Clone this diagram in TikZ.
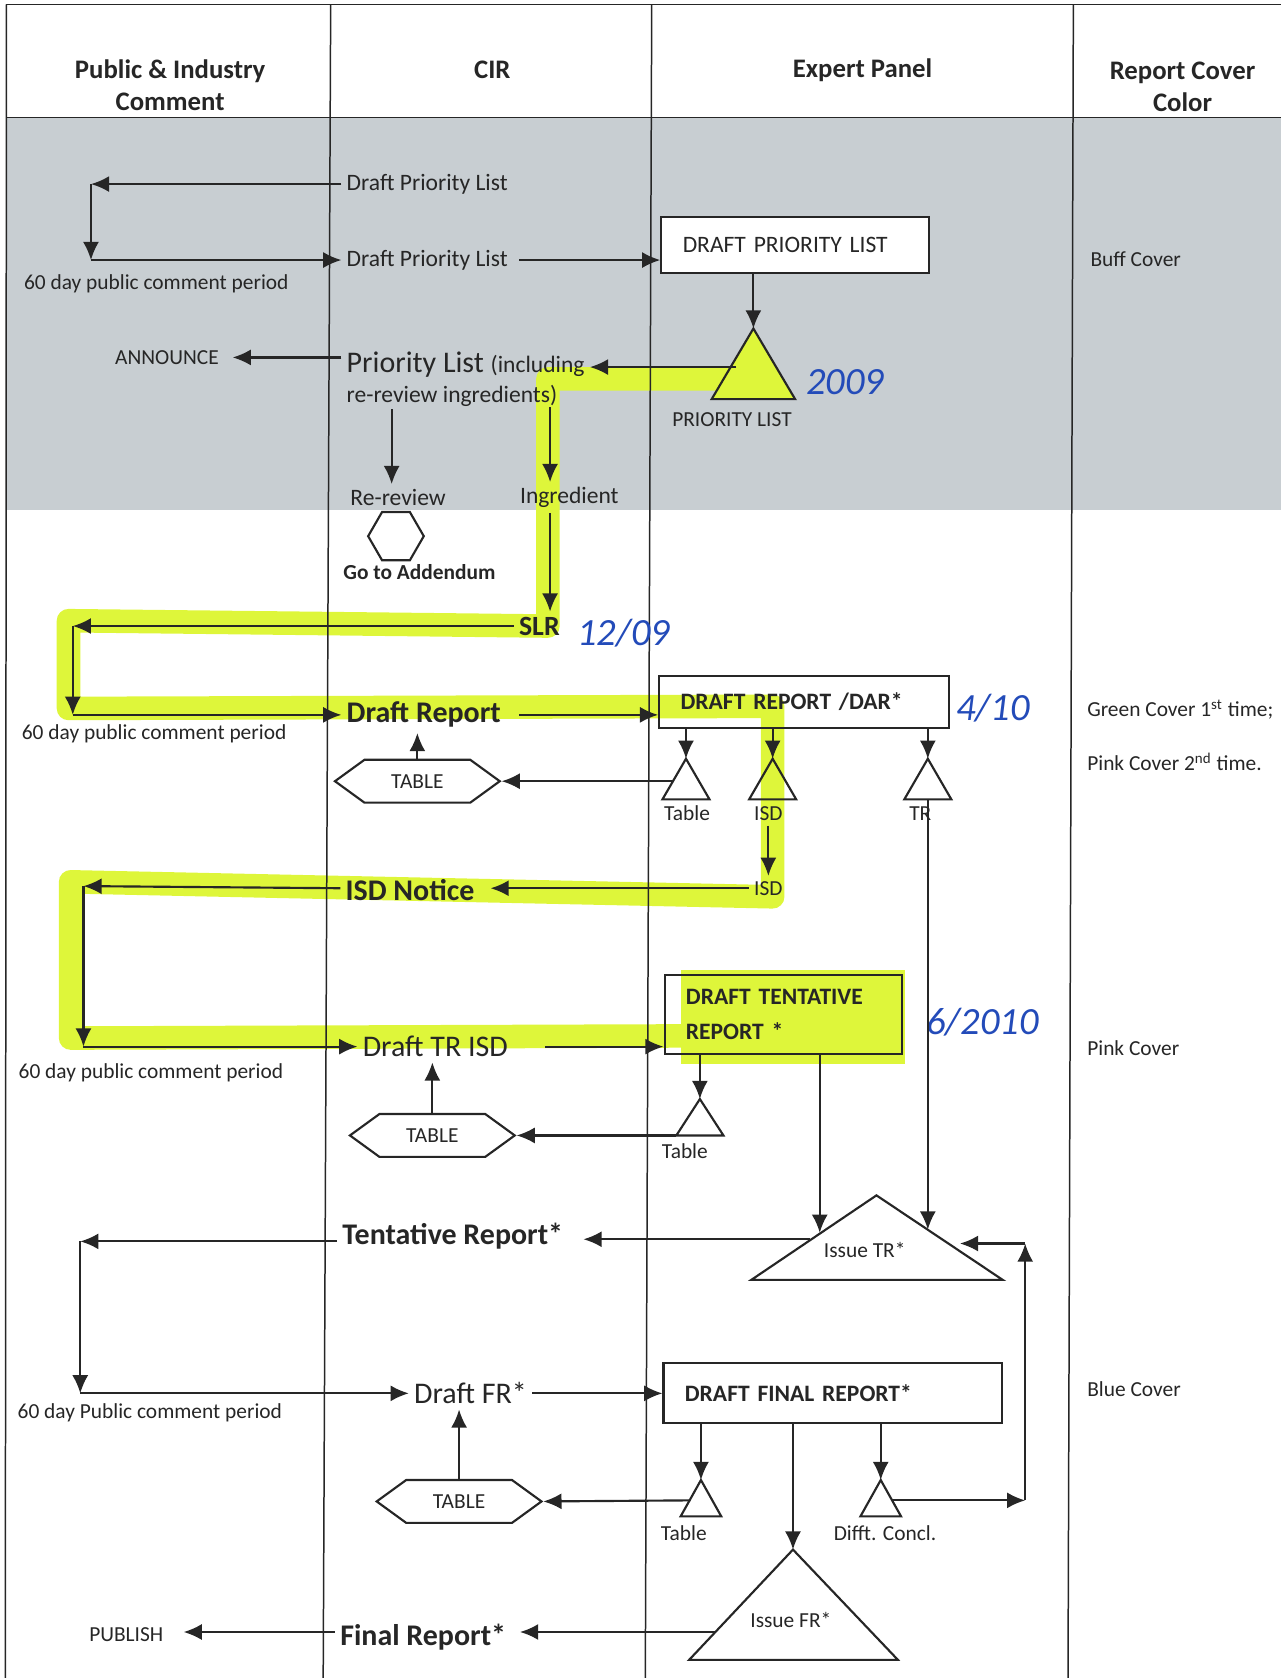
\documentclass[tikz,border=0pt]{standalone}
\usepackage{fontspec}
\setmainfont{Carlito}
\usetikzlibrary{arrows.meta,shapes.symbols,shapes.geometric}

\definecolor{bandgray}{RGB}{200,206,210}
\definecolor{marker}{RGB}{222,246,58}
\definecolor{ink}{RGB}{35,75,185}

\begin{document}
\begin{tikzpicture}[>={Latex[length=8.5pt,width=7.5pt]}, x=0.5pt, y=-0.5pt, line width=1pt, color=black!85,
  lbl/.style={font=\fontsize{10}{12}\selectfont, inner sep=2pt},
  lbm/.style={font=\fontsize{11}{13}\selectfont, inner sep=2pt},
  big/.style={font=\fontsize{14}{16}\selectfont, inner sep=2pt},
  bigb/.style={font=\fontsize{14}{16}\selectfont\bfseries, inner sep=2pt},
  head/.style={font=\fontsize{12.5}{15}\selectfont\bfseries, align=center},
  box/.style={draw, inner xsep=10pt, inner ysep=0pt, align=left, font=\fontsize{11}{16}\selectfont},
  boxb/.style={box, font=\fontsize{11}{16}\selectfont\bfseries},
  tabhex/.style={draw, signal, signal to=west and east, signal pointer angle=72,
    minimum height=20pt, minimum width=77pt, inner sep=0pt, font=\fontsize{10}{12}\selectfont},
  hand/.style={text=ink, font=\fontsize{18}{18}\selectfont\itshape},
  hilite/.style={draw=marker, line width=11pt, line join=round, line cap=round},
  lane/.style={line width=0.7pt}]

  % page and shaded band
  \useasboundingbox (0,0) rectangle (1197,1568);
  \fill[bandgray] (6,110) rectangle (1197,477);

  % highlighter strokes
  \draw[hilite] (700,354) -- (512,354) -- (512,585) -- (64,580) -- (64,662)
    -- (722,660) -- (722,838) -- (66,824) -- (66,970) -- (640,968);
  \fill[marker] (636,906) rectangle (846,994);

  % lanes
  \draw[lane] (6,4) -- (1197,4);
  \draw[lane] (6,110) -- (1197,110);
  \draw[lane] (6,4) -- (5,1568);
  \draw[lane] (309,4) -- (302,1568);
  \draw[lane] (609,4) -- (603,1568);
  \draw[lane] (1003,4) -- (998,1568);

  % headings
  \node[head] (hpub) at (159,80) {Public \& Industry\\Comment};
  \node[head] (hcir) at (460,65) {CIR};
  \node[head] (hexp) at (806,66) {Expert Panel};
  \node[head] (hcov) at (1105,81) {Report Cover\\Color};

  % cover colours
  \node[lbl, anchor=west] (buff) at (1014,242) {Buff Cover};
  \node[lbl, anchor=west] (green) at (1011,663) {Green Cover 1\textsuperscript{st} time;};
  \node[lbl, anchor=west] (pinkb) at (1011,712) {Pink Cover 2\textsuperscript{nd} time.};
  \node[lbl, anchor=west] (pink) at (1011,979) {Pink Cover};
  \node[lbl, anchor=west] (blue) at (1011,1298) {Blue Cover};

  % priority list
  \node[lbm, anchor=west] (dpl1) at (319,172) {Draft Priority List};
  \node[lbm, anchor=west] (dpl2) at (319,243) {Draft Priority List};
  \node[lbl] (pc1) at (146,265) {60 day public comment period};
  \coordinate (k1) at (85,172);
  \draw[->] (dpl1.west) -- (k1);
  \draw[->] (k1) -- (k1 |- dpl2.west);
  \draw[->] (k1 |- dpl2.west) -- (dpl2.west);
  \node[box, fill=white, text width=105pt, minimum height=26pt] (dplbox) at (743,229) {DRAFT PRIORITY LIST};
  \draw[->] ([xshift=3pt]dpl2.east) -- (dpl2.east -| dplbox.west);

  \coordinate (plt) at (704,307);
  \draw[fill=marker] (plt) -- ++(-39,66) -- ++(78,0) -- cycle;
  \draw[->] (dplbox.south -| plt) -- (plt);
  \node[lbl] (plbl) at (684,392) {PRIORITY LIST};
  \node[hand] (n2009) at (790,357) {2009};

  \node[anchor=west, inner sep=2pt] (plist) at (319,341)
    {\fontsize{14}{16}\selectfont Priority List \fontsize{11}{13}\selectfont(including};
  \node[lbm, anchor=west] (plist2) at (319,370) {re-review ingredients)};
  \coordinate (plin) at (688,343);
  \draw[->] (plin) -- (plist.east |- plin);
  \node[lbl] (ann) at (156,334) {ANNOUNCE};
  \draw[->, shorten >=4pt] (plist.west |- ann) -- (ann.east);

  \node[lbm] (rerev) at (372,465) {Re-review};
  \node[lbm] (ingr) at (532,465) {Ingredient};
  \draw[->] (rerev.north) ++(-6,-70) -- ++(0,70);
  \draw[->] (ingr.north) ++(-18,-70) -- ++(0,70);
  \node[draw, regular polygon, regular polygon sides=6, minimum size=26pt, inner sep=0pt] (addx) at (370,501) {};
  \node[font=\fontsize{10}{12}\selectfont\bfseries] (addl) at (392,535) {Go to Addendum};

  % SLR and draft report
  \node[font=\fontsize{13}{15}\selectfont\bfseries, inner sep=2pt] (slr) at (504,585) {SLR};
  \draw[->] (ingr.south) ++(-18,0) -- ++(0,92);
  \node[hand] (n1209) at (583,592) {12/09};
  \node[bigb, anchor=west] (dr) at (319,668) {Draft Report};
  \node[lbl] (pc2) at (144,686) {60 day public comment period};
  \coordinate (k2) at (68,583);
  \draw[->] (slr.west) -- (k2 |- slr.west);
  \draw[->] (k2 |- slr.west) -- (k2 |- dr.west);
  \draw[->] (k2 |- dr.west) -- (dr.west);
  \node[boxb, text width=115.5pt, minimum height=24pt] (drbox) at (751.5,656) {DRAFT REPORT /DAR*};
  \draw[->] ([xshift=6pt]dr.east) -- (dr.east -| drbox.west);
  \node[hand] (n410) at (928,662) {4/10};

  \coordinate (tr1) at (641,709);
  \coordinate (tr2) at (722,709);
  \coordinate (tr3) at (867,709);
  \draw (tr1) -- ++(-22,38) -- ++(44,0) -- cycle;
  \draw (tr2) -- ++(-22,38) -- ++(44,0) -- cycle;
  \draw (tr3) -- ++(-22,38) -- ++(44,0) -- cycle;
  \draw[->] (drbox.south -| tr1) -- (tr1);
  \draw[->] (drbox.south -| tr2) -- (tr2);
  \draw[->] (drbox.south -| tr3) -- (tr3);
  \node[lbl] (tl1) at (642,760) {Table};
  \node[lbl] (isd1) at (718,760) {ISD};
  \node[lbl] (trl) at (860,760) {TR};
  \node[tabhex] (tab1) at (390,730) {TABLE};
  \draw[->] (tr1) ++(-12,21) -- (tab1.east);
  \draw[->] (tab1.north) -- (tab1.north |- dr.south);

  % ISD notice and draft TR ISD
  \node[lbl] (isd2) at (718,830) {ISD};
  \draw[->] (isd1.south) -- (isd2.north);
  \node[bigb, anchor=west] (isdn) at (318,832) {ISD Notice};
  \draw[->, shorten >=5pt] (isd2.west) -- (isd2.west -| isdn.east);
  \node[big, anchor=west] (dtri) at (334,978) {Draft TR ISD};
  \node[lbl] (pc3) at (141,1002) {60 day public comment period};
  \coordinate (k3) at (78,828);
  \draw[->] (isdn.west |- isd2.west) -- (k3);
  \draw[->] (k3) -- (k3 |- dtri.west);
  \draw[->] (k3 |- dtri.west) -- (dtri.west);
  \node[boxb, text width=91pt, minimum height=37pt] (dtrbox) at (732,948) {DRAFT TENTATIVE\\REPORT *};
  \draw[->] ([xshift=15pt]dtri.east) -- (dtri.east -| dtrbox.west);
  \node[hand] (n610) at (918,955) {6/2010};

  \coordinate (tr4) at (654,1027);
  \draw (tr4) -- ++(-22,34) -- ++(44,0) -- cycle;
  \draw[->] (dtrbox.south -| tr4) -- (tr4);
  \node[lbl] (tl2) at (640,1076) {Table};
  \node[tabhex] (tab2) at (404,1061) {TABLE};
  \draw[->] (tr4) ++(-22,34) -- (tab2.east);
  \draw[->] (tab2.north) -- (tab2.north |- dtri.south);

  % issue TR
  \coordinate (itr) at (819,1117);
  \draw (itr) -- ++(-117,79) -- ++(235,0) -- cycle;
  \node[lbl] (itrl) at (808,1168) {Issue TR*};
  \coordinate (itra) at (766,1152);
  \coordinate (itrb) at (867,1149);
  \coordinate (itrc) at (757,1158);
  \coordinate (itrd) at (897,1162);
  \draw[->] (dtrbox.south -| itra) -- (itra);
  \draw[->] (tr3) ++(0,38) -- (itrb);
  \node[bigb, anchor=west] (tent) at (315,1155) {Tentative Report*};
  \draw[->, shorten >=7pt] (itrc) -- (itrc -| tent.east);

  % draft final report
  \node[big, anchor=west] (dfr) at (382,1302) {Draft FR*};
  \node[lbl] (pc4) at (140,1320) {60 day Public comment period};
  \coordinate (k4) at (75,1160);
  \draw[->] (tent.west |- k4) -- (k4);
  \draw[->] (k4) -- (k4 |- dfr.west);
  \draw[->] (k4 |- dfr.west) -- (dfr.west);
  \node[boxb, text width=138pt, minimum height=28pt] (dfrbox) at (778,1302) {DRAFT FINAL REPORT*};
  \draw[->] (dfr.east) -- (dfr.east -| dfrbox.west);

  \coordinate (tr5) at (655,1383);
  \coordinate (tr6) at (823,1383);
  \draw (tr5) -- ++(-19,34) -- ++(38,0) -- cycle;
  \draw (tr6) -- ++(-19,34) -- ++(38,0) -- cycle;
  \draw[->] (dfrbox.south -| tr5) -- (tr5);
  \draw[->] (dfrbox.south -| tr6) -- (tr6);
  \node[lbl] (tl3) at (639,1433) {Table};
  \node[lbl] (difft) at (827,1433) {Difft. Concl.};
  \node[tabhex] (tab3) at (429,1403) {TABLE};
  \draw[->] (tr5) ++(-10,19) -- (tab3.east);
  \draw[->] (tab3.north) -- (tab3.north |- dfr.south);
  \coordinate (k5) at (958,1402);
  \coordinate (k6) at (958,1162);
  \draw[->] (tr6) ++(10,19) -- (k5);
  \draw[->] (k5) -- (k6);
  \draw[->] (k6) -- (itrd);

  % issue FR and publish
  \coordinate (ifr) at (741,1448);
  \draw (ifr) -- ++(-97,103) -- ++(195,0) -- cycle;
  \node[lbl] (ifrl) at (739,1514) {Issue FR*};
  \draw[->] (dfrbox.south -| ifr) -- (ifr);
  \coordinate (ifra) at (668,1525);
  \node[bigb, anchor=west] (fr) at (313,1530) {Final Report*};
  \draw[->, shorten >=4pt] (ifra) -- (ifra -| fr.east);
  \node[lbl] (pub) at (118,1527) {PUBLISH};
  \draw[->, shorten >=7pt] (fr.west |- ifra) -- (ifra -| pub.east);
\end{tikzpicture}
\end{document}
